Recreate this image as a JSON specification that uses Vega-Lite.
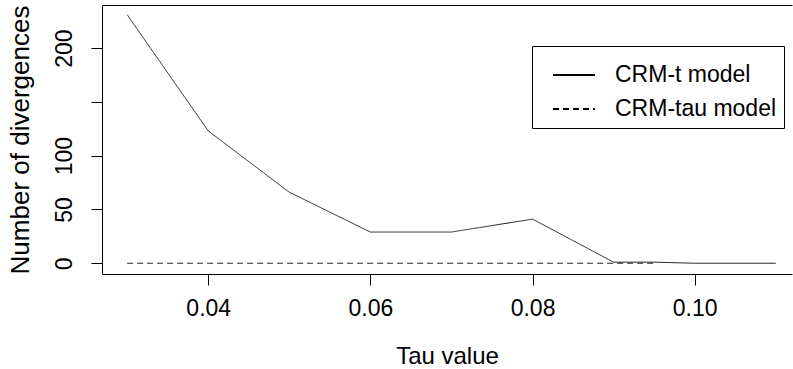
{
  "$schema": "https://vega.github.io/schema/vega-lite/v6.json",
  "width": 690,
  "height": 269,
  "autosize": "none",
  "padding": {"left": 102, "top": 5, "right": 1, "bottom": 95},
  "background": "white",
  "config": {
    "view": {"stroke": null},
    "font": "Liberation Sans",
    "axis": {"grid": false, "domainColor": "black", "tickColor": "black", "labelColor": "black", "titleColor": "black", "labelFont": "Liberation Sans", "titleFont": "Liberation Sans", "titleFontWeight": "normal", "labelFontSize": 23, "titleFontSize": 24, "tickSize": 11, "domainWidth": 1, "tickWidth": 1}
  },
  "data": {"values": [
    {"tau": 0.03, "n": 231, "model": "CRM-t model"},
    {"tau": 0.04, "n": 123, "model": "CRM-t model"},
    {"tau": 0.05, "n": 66, "model": "CRM-t model"},
    {"tau": 0.06, "n": 29, "model": "CRM-t model"},
    {"tau": 0.07, "n": 29, "model": "CRM-t model"},
    {"tau": 0.08, "n": 41, "model": "CRM-t model"},
    {"tau": 0.09, "n": 1, "model": "CRM-t model"},
    {"tau": 0.095, "n": 1, "model": "CRM-t model"},
    {"tau": 0.1, "n": 0, "model": "CRM-t model"},
    {"tau": 0.11, "n": 0, "model": "CRM-t model"},
    {"tau": 0.03, "n": 0, "model": "CRM-tau model"},
    {"tau": 0.04, "n": 0, "model": "CRM-tau model"},
    {"tau": 0.05, "n": 0, "model": "CRM-tau model"},
    {"tau": 0.06, "n": 0, "model": "CRM-tau model"},
    {"tau": 0.07, "n": 0, "model": "CRM-tau model"},
    {"tau": 0.08, "n": 0, "model": "CRM-tau model"},
    {"tau": 0.09, "n": 0, "model": "CRM-tau model"},
    {"tau": 0.095, "n": 0, "model": "CRM-tau model"}
  ]},
  "resolve": {"axis": {"x": "independent", "y": "independent"}},
  "layer": [
    {
      "mark": {"type": "line", "color": "#222", "strokeWidth": 1},
      "encoding": {
        "x": {"field": "tau", "type": "quantitative", "scale": {"domain": [0.0269, 0.112], "nice": false, "zero": false},
              "axis": {"values": [0.04, 0.06, 0.08, 0.1], "format": ".2f", "title": "Tau value", "labelPadding": 12, "titlePadding": 24, "labelFlush": false}},
        "y": {"field": "n", "type": "quantitative", "scale": {"domain": [-10, 240], "nice": false, "zero": false},
              "axis": {"values": [0, 50, 100, 150, 200], "labelExpr": "datum.value == 150 ? '' : datum.label", "labelAngle": -90, "labelAlign": "center", "labelBaseline": "bottom", "labelPadding": 15, "title": "Number of divergences", "titleFontSize": 26, "titlePadding": 20, "labelFlush": false}},
        "strokeDash": {"field": "model", "type": "nominal",
          "scale": {"domain": ["CRM-t model", "CRM-tau model"], "range": [[1, 0], [6, 4]]},
          "legend": {"title": null, "orient": "none", "legendX": 430, "legendY": 41, "padding": 7, "strokeColor": "black", "fillColor": "white", "cornerRadius": 0, "symbolType": "stroke", "symbolSize": 1764, "symbolStrokeWidth": 2, "symbolStrokeColor": "black", "symbolOffset": 13, "labelFontSize": 23, "labelFont": "Liberation Sans", "labelColor": "black", "labelOffset": 19, "rowPadding": -15, "labelLimit": 400}
        }
      }
    },
    {
      "mark": {"type": "line", "opacity": 0},
      "encoding": {
        "x": {"field": "tau", "type": "quantitative", "axis": {"orient": "top", "labels": false, "ticks": false, "title": null, "domain": true}},
        "y": {"field": "n", "type": "quantitative", "axis": null}
      }
    }
  ]
}
